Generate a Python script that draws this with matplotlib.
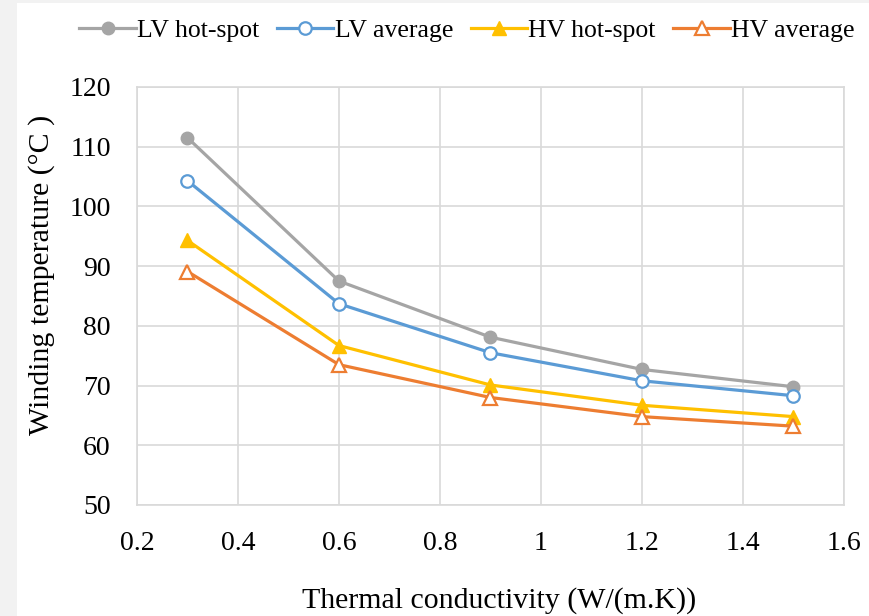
import matplotlib
matplotlib.use("Agg")
import matplotlib.pyplot as plt
from matplotlib.patches import Rectangle

plt.rcParams['font.family'] = ['Liberation Serif', 'DejaVu Serif']

# data
conductivity = [0.3, 0.6, 0.9, 1.2, 1.5]
lv_hot_spot = [111.5, 87.5, 78.1, 72.7, 69.8]
lv_average = [104.3, 83.7, 75.5, 70.8, 68.3]
hv_hot_spot = [94.3, 76.7, 70.1, 66.7, 64.8]
hv_average = [89.1, 73.5, 68.0, 64.8, 63.2]

fig = plt.figure(figsize=(8.69, 6.16), dpi=100)
fig.patch.set_facecolor('white')
# light gray frame strips on left and top edges
fig.patches.append(Rectangle((0, 0), 17 / 869, 1, transform=fig.transFigure,
                             facecolor='#f2f2f2', edgecolor='none'))
fig.patches.append(Rectangle((0, 1 - 3 / 616), 1, 3 / 616, transform=fig.transFigure,
                             facecolor='#f2f2f2', edgecolor='none'))

ax = fig.add_axes([137 / 869, 1 - 505 / 616, 707 / 869, 418 / 616])

ax.plot(conductivity, lv_hot_spot, color='#A5A5A5', lw=2.3, marker='o', ms=9,
        label='LV hot-spot')
ax.plot(conductivity, lv_average, color='#5B9BD5', lw=2.3, marker='o', ms=9,
        mfc='white', mew=1.6, label='LV average')
ax.plot(conductivity, hv_hot_spot, color='#FFC000', lw=2.3, marker='^', ms=10.5,
        label='HV hot-spot')
ax.plot(conductivity, hv_average, color='#ED7D31', lw=2.3, marker='^', ms=10.5,
        mfc='white', mew=1.6, label='HV average')

ax.set_xlim(0.2, 1.6)
ax.set_ylim(50, 120)
ax.set_xticks([0.2, 0.4, 0.6, 0.8, 1.0, 1.2, 1.4, 1.6])
ax.set_xticklabels(['0.2', '0.4', '0.6', '0.8', '1', '1.2', '1.4', '1.6'])
ax.set_yticks(range(50, 121, 10))
ax.grid(True, color='#d9d9d9', lw=1.2)
ax.set_axisbelow(True)
for s in ax.spines.values():
    s.set_color('#d9d9d9')
    s.set_linewidth(1.2)
ax.tick_params(length=0, labelsize=20, colors='black')
ax.tick_params(axis='x', pad=19)
ax.tick_params(axis='y', pad=19)

ax.set_xlabel('Thermal conductivity (W/(m.K))', fontsize=21.5, labelpad=22)
ax.set_ylabel('Winding temperature (°C )', fontsize=21.5, labelpad=10)
ax.xaxis.label.set_x(0.512)
ax.yaxis.label.set_y(0.55)

fig.legend(loc='center', bbox_to_anchor=(467 / 869, 1 - 31 / 616), ncol=4,
           frameon=False, fontsize=18.5, handlelength=2.2, handletextpad=0.05,
           columnspacing=0.68)

fig.savefig('out.png', dpi=100, facecolor=fig.get_facecolor())
